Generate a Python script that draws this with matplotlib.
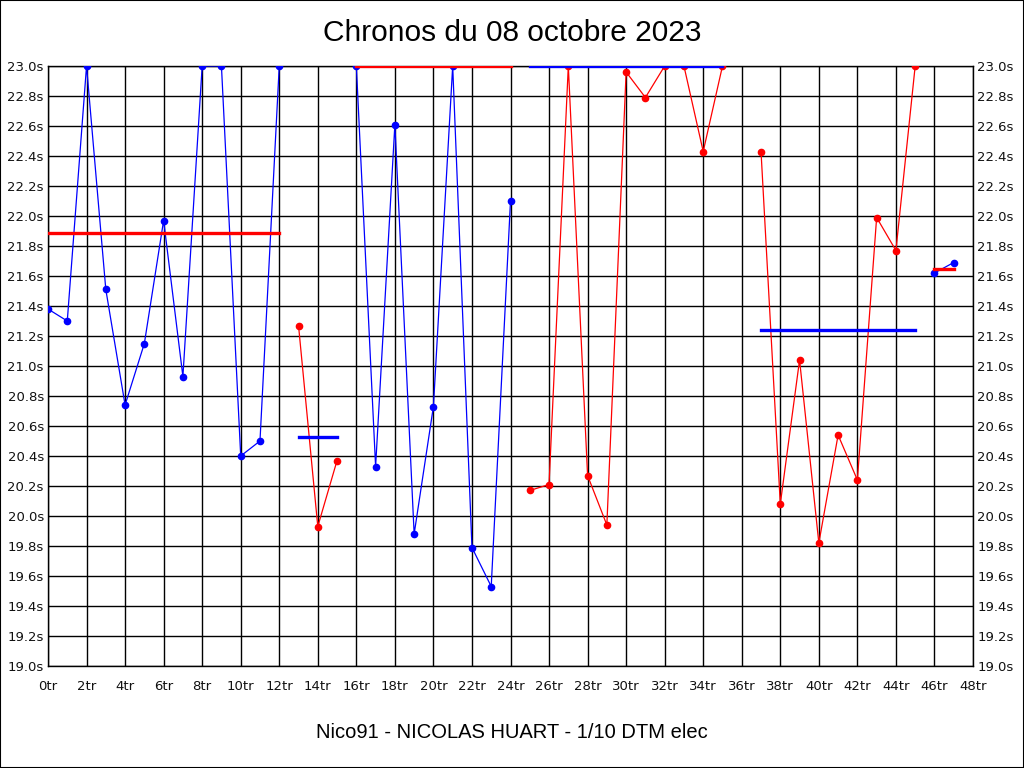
import matplotlib.pyplot as plt
from matplotlib.patches import Rectangle

# lap times per session (values above 23.0s are shown capped at 23.0s)
s1_laps = list(range(0, 13))
s1_times = [21.38, 21.30, 23.0, 21.51, 20.74, 21.15, 21.97, 20.93, 23.0, 23.0, 20.40, 20.50, 23.0]
s2_laps = [13, 14, 15]
s2_times = [21.27, 19.93, 20.37]
s3_laps = list(range(16, 25))
s3_times = [23.0, 20.33, 22.61, 19.88, 20.73, 23.0, 19.79, 19.53, 22.10]
s4_laps = list(range(25, 36))
s4_times = [20.17, 20.21, 23.0, 20.27, 19.94, 22.96, 22.79, 23.0, 23.0, 22.43, 23.0]
s5_laps = list(range(37, 46))
s5_times = [22.43, 20.08, 21.04, 19.82, 20.54, 20.24, 21.99, 21.77, 23.0]
s6_laps = [46, 47]
s6_times = [21.62, 21.69]

# session averages (as drawn)
avg_times = [21.89, 20.53, 23.0, 23.0, 21.24, 21.65]

sessions = [(s1_laps, s1_times), (s2_laps, s2_times), (s3_laps, s3_times),
            (s4_laps, s4_times), (s5_laps, s5_times), (s6_laps, s6_times)]
line_cols = ['blue', 'red', 'blue', 'red', 'red', 'blue']
avg_cols = ['red', 'blue', 'red', 'blue', 'blue', 'red']

y_ticks = [19.0 + 0.2 * i for i in range(21)]
x_ticks = list(range(0, 49, 2))

fig = plt.figure(figsize=(10.24, 7.68), dpi=100)
ax = fig.add_axes([48 / 1024, 102 / 768, 925 / 1024, 600 / 768])

for (laps, times), lc, ac, avg in zip(sessions, line_cols, avg_cols, avg_times):
    ax.plot(laps, times, color=lc, lw=0.9, marker='o', ms=4.5, zorder=3)
    ax.plot([laps[0], laps[-1]], [avg, avg], color=ac, lw=2.4, zorder=4)

ax.set_xlim(0, 48)
ax.set_ylim(19.0, 23.0)
ax.set_xticks(x_ticks)
ax.set_xticklabels(['%dtr' % x for x in x_ticks])
ax.set_yticks(y_ticks)
ax.set_yticklabels(['%.1fs' % y for y in y_ticks])
ax.grid(True, color='black', lw=1.0)
ax.set_axisbelow(True)
ax.tick_params(length=0, labelsize=9.5, colors='#111111')
ax.tick_params(axis='y', pad=3, right=True, labelright=True)
ax.tick_params(axis='x', pad=10)
for sp in ax.spines.values():
    sp.set_linewidth(1.0)

fig.text(0.5, 1 - 33 / 768, 'Chronos du 08 octobre 2023', ha='center', va='center',
         fontsize=21.5, family='Liberation Sans')
fig.text(0.5, 1 - 733 / 768, 'Nico91 - NICOLAS HUART - 1/10 DTM elec', ha='center',
         va='center', fontsize=14.5, family='Liberation Sans')
fig.patches.append(Rectangle((0, 0), 1, 1, transform=fig.transFigure, fill=False,
                             edgecolor='black', lw=1.5))

fig.savefig('out.png', dpi=100)
